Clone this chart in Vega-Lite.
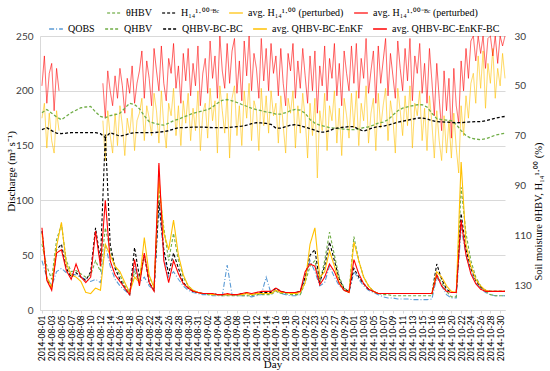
{
  "$schema": "https://vega.github.io/schema/vega-lite/v6.json",
  "width": 465,
  "height": 274,
  "autosize": {"type": "none"},
  "padding": {"left": 40, "top": 36, "right": 45, "bottom": 61},
  "background": "white",
  "config": {
    "view": {"stroke": null},
    "axis": {"labelFont": "Lato", "titleFont": "Liberation Serif", "titleFontWeight": "normal", "titleColor": "#000", "labelColor": "#404040", "gridColor": "#d9d9d9", "domainColor": "#d9d9d9", "tickColor": "#d9d9d9"},
    "legend": {"labelFont": "Liberation Serif", "labelFontSize": 10, "labelColor": "#000", "symbolType": "stroke", "symbolSize": 190, "symbolStrokeWidth": 1.4, "direction": "horizontal", "orient": "none", "columnPadding": 7, "labelOffset": 4}
  },
  "datasets": {
    "q": [
      {"t":0,"qo":45,"qh":60,"qb":72,"qe":70,"qr":75,"th":60.8,"hb":67.6},
      {"t":0.5,"qo":30,"qh":40,"qb":28,"qe":30,"qr":27,"th":59.5,"hb":66.8},
      {"t":1,"qo":22,"qh":28,"qb":20,"qe":20,"qr":18,"th":61,"hb":68},
      {"t":1.5,"qo":35,"qh":64,"qb":55,"qe":58,"qr":52,"th":62.5,"hb":69},
      {"t":2,"qo":38,"qh":78,"qb":60,"qe":80,"qr":55,"th":63.6,"hb":69.2},
      {"t":2.5,"qo":34,"qh":45,"qb":38,"qe":42,"qr":36,"th":62.2,"hb":69},
      {"t":3,"qo":33,"qh":35,"qb":30,"qe":32,"qr":28,"th":60.8,"hb":68.8},
      {"t":3.5,"qo":32,"qh":36,"qb":34,"qe":30,"qr":42,"th":59.8,"hb":68.8},
      {"t":4,"qo":30,"qh":33,"qb":30,"qe":26,"qr":30,"th":58.8,"hb":68.8},
      {"t":4.5,"qo":28,"qh":30,"qb":27,"qe":16,"qr":25,"th":58.5,"hb":68.8},
      {"t":5,"qo":26,"qh":32,"qb":35,"qe":15,"qr":30,"th":58.3,"hb":68.8},
      {"t":5.5,"qo":28,"qh":45,"qb":75,"qe":20,"qr":72,"th":60.5,"hb":68.8},
      {"t":6,"qo":25,"qh":35,"qb":45,"qe":18,"qr":40,"th":62.3,"hb":69.2},
      {"t":6.5,"qo":60,"qh":75,"qb":160,"qe":60,"qr":100,"th":62.8,"hb":70.8},
      {"t":7,"qo":40,"qh":55,"qb":60,"qe":50,"qr":45,"th":62,"hb":68.8},
      {"t":7.5,"qo":28,"qh":40,"qb":38,"qe":40,"qr":32,"th":61.6,"hb":69.5},
      {"t":8,"qo":22,"qh":32,"qb":28,"qe":35,"qr":26,"th":61,"hb":70.2},
      {"t":8.5,"qo":18,"qh":22,"qb":20,"qe":25,"qr":20,"th":59,"hb":69.8},
      {"t":9,"qo":14,"qh":16,"qb":14,"qe":16,"qr":14,"th":57,"hb":69.2},
      {"t":9.5,"qo":40,"qh":35,"qb":57,"qe":30,"qr":46,"th":57.5,"hb":68.8},
      {"t":10,"qo":25,"qh":25,"qb":30,"qe":25,"qr":22,"th":59.2,"hb":68.8},
      {"t":10.5,"qo":30,"qh":50,"qb":50,"qe":66,"qr":52,"th":62,"hb":68.8},
      {"t":11,"qo":22,"qh":30,"qb":25,"qe":32,"qr":25,"th":64.4,"hb":68.8},
      {"t":11.5,"qo":18,"qh":22,"qb":18,"qe":20,"qr":17,"th":65,"hb":68.8},
      {"t":12,"qo":95,"qh":110,"qb":100,"qe":120,"qr":134,"th":65.5,"hb":68.6},
      {"t":12.5,"qo":50,"qh":75,"qb":55,"qe":70,"qr":45,"th":65.8,"hb":68.4},
      {"t":13,"qo":30,"qh":45,"qb":33,"qe":55,"qr":25,"th":65,"hb":68},
      {"t":13.5,"qo":35,"qh":70,"qb":52,"qe":82,"qr":45,"th":64,"hb":67.4},
      {"t":14,"qo":28,"qh":45,"qb":38,"qe":50,"qr":33,"th":63.4,"hb":66.8},
      {"t":14.5,"qo":22,"qh":30,"qb":25,"qe":32,"qr":24,"th":62.6,"hb":66.8},
      {"t":15,"qo":18,"qh":22,"qb":20,"qe":22,"qr":20,"th":61.8,"hb":66.7},
      {"t":15.5,"qo":16,"qh":18,"qb":17,"qe":18,"qr":17,"th":61,"hb":66.6},
      {"t":16,"qo":15,"qh":16,"qb":16,"qe":16,"qr":16,"th":60.5,"hb":66.6},
      {"t":16.5,"qo":14,"qh":15,"qb":15,"qe":15,"qr":15,"th":60,"hb":66.6},
      {"t":17,"qo":14,"qh":14,"qb":15,"qe":15,"qr":15,"th":59.6,"hb":66.7},
      {"t":17.5,"qo":13,"qh":14,"qb":15,"qe":14,"qr":15,"th":58.5,"hb":66.8},
      {"t":18,"qo":13,"qh":14,"qb":14,"qe":14,"qr":14,"th":57,"hb":66.8},
      {"t":18.5,"qo":13,"qh":13,"qb":14,"qe":14,"qr":14,"th":55.8,"hb":66.8},
      {"t":19,"qo":41,"qh":13,"qb":14,"qe":14,"qr":15,"th":55.5,"hb":66.8},
      {"t":19.5,"qo":14,"qh":13,"qb":14,"qe":14,"qr":14,"th":56,"hb":66.6},
      {"t":20,"qo":13,"qh":13,"qb":14,"qe":14,"qr":14,"th":56.7,"hb":66.4},
      {"t":20.5,"qo":13,"qh":13,"qb":15,"qe":14,"qr":15,"th":57.5,"hb":66.2},
      {"t":21,"qo":13,"qh":13,"qb":15,"qe":15,"qr":16,"th":58.2,"hb":65.8},
      {"t":21.5,"qo":12,"qh":13,"qb":14,"qe":14,"qr":15,"th":59,"hb":65.2},
      {"t":22,"qo":13,"qh":14,"qb":15,"qe":15,"qr":16,"th":59.6,"hb":64.8},
      {"t":22.5,"qo":14,"qh":14,"qb":16,"qe":15,"qr":17,"th":60,"hb":64.9},
      {"t":23,"qo":30,"qh":14,"qb":16,"qe":15,"qr":17,"th":60.5,"hb":65.1},
      {"t":23.5,"qo":15,"qh":14,"qb":16,"qe":15,"qr":17,"th":60.8,"hb":65.5},
      {"t":24,"qo":18,"qh":17,"qb":20,"qe":18,"qr":20,"th":61.4,"hb":67},
      {"t":24.5,"qo":15,"qh":15,"qb":17,"qe":16,"qr":17,"th":61.4,"hb":67},
      {"t":25,"qo":14,"qh":15,"qb":16,"qe":16,"qr":16,"th":60.8,"hb":66.4},
      {"t":25.5,"qo":13,"qh":14,"qb":16,"qe":15,"qr":16,"th":60,"hb":65.8},
      {"t":26,"qo":13,"qh":14,"qb":16,"qe":15,"qr":16,"th":59.5,"hb":65.6},
      {"t":26.5,"qo":14,"qh":14,"qb":17,"qe":16,"qr":17,"th":59.8,"hb":66},
      {"t":27,"qo":30,"qh":25,"qb":30,"qe":25,"qr":35,"th":61,"hb":66.6},
      {"t":27.5,"qo":45,"qh":40,"qb":50,"qe":60,"qr":42,"th":63.5,"hb":67.2},
      {"t":28,"qo":35,"qh":45,"qb":55,"qe":75,"qr":40,"th":65,"hb":67.8},
      {"t":28.5,"qo":22,"qh":25,"qb":25,"qe":30,"qr":23,"th":65.8,"hb":68.6},
      {"t":29,"qo":25,"qh":45,"qb":40,"qe":35,"qr":30,"th":66.3,"hb":68.6},
      {"t":29.5,"qo":40,"qh":71,"qb":62,"qe":54,"qr":42,"th":66.8,"hb":68},
      {"t":30,"qo":30,"qh":50,"qb":45,"qe":40,"qr":35,"th":67,"hb":67.2},
      {"t":30.5,"qo":22,"qh":30,"qb":28,"qe":25,"qr":24,"th":67.2,"hb":66.8},
      {"t":31,"qo":18,"qh":20,"qb":19,"qe":18,"qr":18,"th":67.4,"hb":66.6},
      {"t":31.5,"qo":16,"qh":17,"qb":17,"qe":16,"qr":16,"th":67.6,"hb":66.4},
      {"t":32,"qo":35,"qh":67,"qb":38,"qe":62,"qr":46,"th":67.6,"hb":66.4},
      {"t":32.5,"qo":28,"qh":45,"qb":30,"qe":45,"qr":33,"th":67.3,"hb":67.5},
      {"t":33,"qo":22,"qh":30,"qb":24,"qe":30,"qr":24,"th":66.8,"hb":68.2},
      {"t":33.5,"qo":18,"qh":22,"qb":19,"qe":22,"qr":19,"th":66.5,"hb":67.5},
      {"t":34,"qo":16,"qh":17,"qb":17,"qe":17,"qr":17,"th":65.8,"hb":66.8},
      {"t":34.5,"qo":14,"qh":15,"qb":15,"qe":15,"qr":15,"th":65,"hb":66.4},
      {"t":35,"qo":12,"qh":14,"qb":15,"qe":15,"qr":15,"th":64.6,"hb":66.2},
      {"t":35.5,"qo":11,"qh":14,"qb":15,"qe":15,"qr":15,"th":63.6,"hb":65.8},
      {"t":36,"qo":11,"qh":13,"qb":15,"qe":15,"qr":15,"th":61.8,"hb":65.2},
      {"t":36.5,"qo":10,"qh":13,"qb":15,"qe":15,"qr":15,"th":60,"hb":64.6},
      {"t":37,"qo":10,"qh":13,"qb":15,"qe":15,"qr":15,"th":59,"hb":64.2},
      {"t":37.5,"qo":10,"qh":13,"qb":15,"qe":15,"qr":15,"th":58.5,"hb":63.8},
      {"t":38,"qo":9.5,"qh":13,"qb":15,"qe":15,"qr":15,"th":58,"hb":63.4},
      {"t":38.5,"qo":9.5,"qh":13,"qb":15,"qe":15,"qr":15,"th":57.6,"hb":63},
      {"t":39,"qo":9.5,"qh":13,"qb":15,"qe":15,"qr":15,"th":57.6,"hb":62.9},
      {"t":39.5,"qo":9.5,"qh":13,"qb":15,"qe":15,"qr":15,"th":58.5,"hb":63.3},
      {"t":40,"qo":10,"qh":13,"qb":15,"qe":15,"qr":15,"th":61,"hb":63.9},
      {"t":40.5,"qo":30,"qh":32,"qb":42,"qe":35,"qr":32,"th":63.2,"hb":64.4},
      {"t":41,"qo":22,"qh":25,"qb":28,"qe":30,"qr":22,"th":63.6,"hb":64.5},
      {"t":41.5,"qo":14,"qh":17,"qb":19,"qe":22,"qr":17,"th":63.8,"hb":64.6},
      {"t":42,"qo":11,"qh":12,"qb":16,"qe":17,"qr":16,"th":64,"hb":64.7},
      {"t":42.5,"qo":11,"qh":12,"qb":16,"qe":16,"qr":16,"th":65.5,"hb":64.8},
      {"t":43,"qo":75,"qh":112,"qb":88,"qe":135,"qr":82,"th":68,"hb":64.8},
      {"t":43.5,"qo":50,"qh":70,"qb":55,"qe":60,"qr":50,"th":70,"hb":64.6},
      {"t":44,"qo":35,"qh":45,"qb":38,"qe":40,"qr":33,"th":71,"hb":64.5},
      {"t":44.5,"qo":25,"qh":30,"qb":27,"qe":28,"qr":24,"th":71.4,"hb":64.4},
      {"t":45,"qo":20,"qh":22,"qb":21,"qe":22,"qr":19,"th":71.6,"hb":64.4},
      {"t":45.5,"qo":16,"qh":17,"qb":18,"qe":18,"qr":17,"th":71.3,"hb":64},
      {"t":46,"qo":14,"qh":14,"qb":17,"qe":17,"qr":17,"th":70.6,"hb":63.5},
      {"t":46.5,"qo":13,"qh":13,"qb":17,"qe":17,"qr":17,"th":69.8,"hb":63},
      {"t":47,"qo":13,"qh":13,"qb":17,"qe":17,"qr":17,"th":69.4,"hb":62.6},
      {"t":47.5,"qo":13,"qh":13,"qb":17,"qe":17,"qr":17,"th":69,"hb":62.3}
    ],
    "h": [
      {"t":0,"hr":50,"ha":63},{"t":0.25,"hr":38,"ha":57},{"t":0.5,"hr":57,"ha":75},{"t":0.75,"hr":45,"ha":61},
      {"t":1,"hr":41,"ha":72},{"t":1.25,"hr":60,"ha":77},{"t":1.5,"hr":43,"ha":60},{"t":1.75,"hr":52,"ha":68},
      {"t":4,"hr":null,"ha":null},
      {"t":6.25,"hr":49,"ha":64},{"t":6.5,"hr":63,"ha":80},{"t":6.75,"hr":44,"ha":60},{"t":7,"hr":52,"ha":70},
      {"t":7.25,"hr":58,"ha":77},{"t":7.5,"hr":46,"ha":61},{"t":7.75,"hr":55,"ha":74},{"t":8,"hr":43,"ha":58},
      {"t":8.25,"hr":50,"ha":66},{"t":8.5,"hr":61,"ha":78},{"t":8.75,"hr":47,"ha":63},{"t":9,"hr":53,"ha":69},
      {"t":9.25,"hr":42,"ha":59},{"t":9.5,"hr":57,"ha":76},{"t":9.75,"hr":49,"ha":64},{"t":10,"hr":44,"ha":61},
      {"t":10.25,"hr":36,"ha":55},{"t":10.5,"hr":55,"ha":72},{"t":10.75,"hr":40,"ha":58},{"t":11,"hr":47,"ha":63},
      {"t":11.25,"hr":58,"ha":70},{"t":11.5,"hr":35,"ha":53},{"t":11.75,"hr":44,"ha":60},{"t":12,"hr":52,"ha":73},
      {"t":12.25,"hr":34,"ha":52},{"t":12.5,"hr":49,"ha":66},{"t":12.75,"hr":56,"ha":75},{"t":13,"hr":39,"ha":57},
      {"t":13.25,"hr":45,"ha":62},{"t":13.5,"hr":33,"ha":51},{"t":13.75,"hr":51,"ha":70},{"t":14,"hr":42,"ha":58},
      {"t":14.25,"hr":57,"ha":74},{"t":14.5,"hr":37,"ha":56},{"t":14.75,"hr":48,"ha":65},{"t":15,"hr":35,"ha":53},
      {"t":15.25,"hr":54,"ha":72},{"t":15.5,"hr":41,"ha":59},{"t":15.75,"hr":50,"ha":68},{"t":16,"hr":34,"ha":52},
      {"t":16.25,"hr":58,"ha":76},{"t":16.5,"hr":45,"ha":61},{"t":16.75,"hr":39,"ha":57},{"t":17,"hr":53,"ha":71},
      {"t":17.25,"hr":32,"ha":51},{"t":17.5,"hr":47,"ha":64},{"t":17.75,"hr":38,"ha":56},{"t":18,"hr":55,"ha":77},
      {"t":18.25,"hr":30,"ha":50},{"t":18.5,"hr":44,"ha":60},{"t":18.75,"hr":51,"ha":69},{"t":19,"hr":33,"ha":53},
      {"t":19.25,"hr":49,"ha":79},{"t":19.5,"hr":36,"ha":55},{"t":19.75,"hr":31,"ha":50},{"t":20,"hr":53,"ha":70},
      {"t":20.25,"hr":40,"ha":58},{"t":20.5,"hr":56,"ha":74},{"t":20.75,"hr":32,"ha":52},{"t":21,"hr":46,"ha":63},
      {"t":21.25,"hr":30,"ha":49},{"t":21.5,"hr":52,"ha":72},{"t":21.75,"hr":37,"ha":56},{"t":22,"hr":43,"ha":60},
      {"t":22.25,"hr":55,"ha":76},{"t":22.5,"hr":31,"ha":51},{"t":22.75,"hr":48,"ha":66},{"t":23,"hr":35,"ha":54},
      {"t":23.25,"hr":52,"ha":69},{"t":23.5,"hr":33,"ha":52},{"t":23.75,"hr":45,"ha":62},{"t":24,"hr":38,"ha":57},
      {"t":24.25,"hr":54,"ha":73},{"t":24.5,"hr":35,"ha":54},{"t":24.75,"hr":49,"ha":66},{"t":25,"hr":58,"ha":77},
      {"t":25.25,"hr":37,"ha":55},{"t":25.5,"hr":44,"ha":61},{"t":25.75,"hr":33,"ha":52},{"t":26,"hr":55,"ha":75},
      {"t":26.25,"hr":40,"ha":58},{"t":26.5,"hr":51,"ha":69},{"t":26.75,"hr":35,"ha":53},{"t":27,"hr":46,"ha":63},
      {"t":27.25,"hr":57,"ha":79},{"t":27.5,"hr":38,"ha":57},{"t":27.75,"hr":52,"ha":70},{"t":28,"hr":36,"ha":55},
      {"t":28.25,"hr":61,"ha":87},{"t":28.5,"hr":42,"ha":60},{"t":28.75,"hr":50,"ha":68},{"t":29,"hr":34,"ha":53},
      {"t":29.25,"hr":56,"ha":76},{"t":29.5,"hr":39,"ha":58},{"t":29.75,"hr":47,"ha":64},{"t":30,"hr":33,"ha":52},
      {"t":30.25,"hr":54,"ha":73},{"t":30.5,"hr":41,"ha":59},{"t":30.75,"hr":58,"ha":78},{"t":31,"hr":36,"ha":55},
      {"t":31.25,"hr":45,"ha":62},{"t":31.5,"hr":52,"ha":71},{"t":31.75,"hr":34,"ha":53},{"t":32,"hr":49,"ha":67},
      {"t":32.25,"hr":33,"ha":52},{"t":32.5,"hr":55,"ha":74},{"t":32.75,"hr":39,"ha":57},{"t":33,"hr":47,"ha":64},
      {"t":33.25,"hr":31,"ha":50},{"t":33.5,"hr":53,"ha":73},{"t":33.75,"hr":44,"ha":61},{"t":34,"hr":36,"ha":55},
      {"t":34.25,"hr":57,"ha":76},{"t":34.5,"hr":34,"ha":53},{"t":34.75,"hr":49,"ha":67},{"t":35,"hr":40,"ha":58},
      {"t":35.25,"hr":31,"ha":51},{"t":35.5,"hr":54,"ha":72},{"t":35.75,"hr":37,"ha":56},{"t":36,"hr":46,"ha":63},
      {"t":36.25,"hr":55,"ha":77},{"t":36.5,"hr":32,"ha":51},{"t":36.75,"hr":43,"ha":60},{"t":37,"hr":52,"ha":70},
      {"t":37.25,"hr":35,"ha":54},{"t":37.5,"hr":48,"ha":66},{"t":37.75,"hr":31,"ha":50},{"t":38,"hr":56,"ha":75},
      {"t":38.25,"hr":38,"ha":57},{"t":38.5,"hr":45,"ha":62},{"t":38.75,"hr":33,"ha":52},{"t":39,"hr":53,"ha":72},
      {"t":39.25,"hr":41,"ha":59},{"t":39.5,"hr":57,"ha":76},{"t":39.75,"hr":35,"ha":54},{"t":40,"hr":48,"ha":65},
      {"t":40.25,"hr":62,"ha":79},{"t":40.5,"hr":41,"ha":60},{"t":40.75,"hr":55,"ha":72},{"t":41,"hr":68,"ha":80},
      {"t":41.25,"hr":44,"ha":62},{"t":41.5,"hr":60,"ha":77},{"t":41.75,"hr":47,"ha":64},{"t":42,"hr":71,"ha":79},
      {"t":42.25,"hr":43,"ha":61},{"t":42.5,"hr":58,"ha":75},{"t":42.75,"hr":65,"ha":85},{"t":43,"hr":40,"ha":58},
      {"t":43.25,"hr":52,"ha":70},{"t":43.5,"hr":35,"ha":54},{"t":43.75,"hr":47,"ha":63},{"t":44,"hr":32,"ha":49},
      {"t":44.25,"hr":30,"ha":45},{"t":44.5,"hr":40,"ha":57},{"t":44.75,"hr":30,"ha":38},{"t":45,"hr":37,"ha":51},
      {"t":45.25,"hr":30,"ha":36},{"t":45.5,"hr":43,"ha":59},{"t":45.75,"hr":31,"ha":41},{"t":46,"hr":30,"ha":49},
      {"t":46.25,"hr":38,"ha":35},{"t":46.5,"hr":30,"ha":55},{"t":46.75,"hr":41,"ha":43},{"t":47,"hr":30,"ha":50},
      {"t":47.25,"hr":34,"ha":37},{"t":47.5,"hr":30,"ha":47}
    ]
  },
  "encoding": {
    "x": {
      "field": "t", "type": "quantitative",
      "scale": {"domain": [-0.2, 47.5], "nice": false, "zero": false},
      "axis": {
        "title": "Day", "titleFontSize": 11, "titleY": 48, "titleBaseline": "top",
        "values": [0,1,2,3,4,5,6,7,8,9,10,11,12,13,14,15,16,17,18,19,20,21,22,23,24,25,26,27,28,29,30,31,32,33,34,35,36,37,38,39,40,41,42,43,44,45,46,47],
        "labelExpr": "['2014-08-01','2014-08-03','2014-08-05','2014-08-07','2014-08-08','2014-08-10','2014-08-12','2014-08-14','2014-08-16','2014-08-18','2014-08-20','2014-08-22','2014-08-24','2014-08-26','2014-08-28','2014-08-30','2014-08-31','2014-09-02','2014-09-04','2014-09-06','2014-09-08','2014-09-10','2014-09-12','2014-09-14','2014-09-16','2014-09-18','2014-09-20','2014-09-22','2014-09-23','2014-09-25','2014-09-27','2014-09-29','2014-10-01','2014-10-03','2014-10-05','2014-10-07','2014-10-09','2014-10-11','2014-10-13','2014-10-15','2014-10-16','2014-10-18','2014-10-20','2014-10-22','2014-10-24','2014-10-26','2014-10-28','2014-10-30'][datum.value]",
        "labelAngle": 270, "labelFontSize": 8.5, "labelColor": "#000", "labelOverlap": false, "labelPadding": 2,
        "grid": false, "tickSize": 3, "labelFlush": false
      }
    }
  },
  "layer": [
    {
      "encoding": {
        "y": {
          "field": "v", "type": "quantitative",
          "scale": {"domain": [30, 140], "reverse": true, "nice": false, "zero": false},
          "axis": {"orient": "right", "title": "Soil moisture θHBV, H₁₄¹·⁰⁰ (%)", "titleFontSize": 10.5, "titleAngle": 270, "titleX": 33, "titleY": 175, "titleAlign": "center", "titleBaseline": "middle", "values": [30, 50, 70, 90, 110, 130], "grid": false, "domain": false, "ticks": false, "labelFontSize": 10, "labelPadding": 9}
        },
        "color": {
          "field": "s", "type": "nominal",
          "scale": {"domain": ["th", "hb", "ha", "hr"], "range": ["#70ad47", "#000000", "#ffc000", "#ff0000"]},
          "legend": {"title": null, "legendX": 66, "legendY": -31, "labelFont": "Liberation Serif", "labelFontSize": 10, "labelExpr": "{'th':'θHBV','hb':'H₁₄¹·⁰⁰⁻ᴮᶜ','ha':'avg. H₁₄¹·⁰⁰ (perturbed)','hr':'avg. H₁₄¹·⁰⁰⁻ᴮᶜ (perturbed)'}[datum.label]"}
        },
        "strokeDash": {
          "field": "s", "type": "nominal",
          "scale": {"domain": ["th", "hb", "ha", "hr"], "range": [[3, 2], [3, 2], [1, 0], [1, 0]]},
          "legend": {"title": null, "legendX": 66, "legendY": -31, "labelFont": "Liberation Serif", "labelFontSize": 10, "labelExpr": "{'th':'θHBV','hb':'H₁₄¹·⁰⁰⁻ᴮᶜ','ha':'avg. H₁₄¹·⁰⁰ (perturbed)','hr':'avg. H₁₄¹·⁰⁰⁻ᴮᶜ (perturbed)'}[datum.label]"}
        }
      },
      "layer": [
        {
          "data": {"name": "h"},
          "transform": [{"fold": ["ha", "hr"], "as": ["s", "v"]}],
          "mark": {"type": "line", "strokeWidth": 0.8, "opacity": 0.8, "invalid": "break-paths-filter-domains"}
        },
        {
          "data": {"name": "q"},
          "transform": [{"fold": ["th", "hb"], "as": ["s", "v"]}],
          "mark": {"type": "line", "strokeWidth": 1.3}
        }
      ]
    },
    {
      "data": {"name": "q"},
      "transform": [{"fold": ["qo", "qh", "qb", "qe", "qr"], "as": ["s", "v"]}],
      "mark": {"type": "line", "strokeWidth": 1.1},
      "encoding": {
        "y": {
          "field": "v", "type": "quantitative",
          "scale": {"domain": [0, 250], "nice": false},
          "axis": {"orient": "left", "title": "Discharge (m³ s⁻¹)", "titleFontSize": 11, "titleX": -29, "titleY": 135, "titleAngle": 270, "titleAlign": "center", "titleBaseline": "middle", "values": [0, 50, 100, 150, 200, 250], "grid": true, "domain": true, "ticks": false, "labelFontSize": 10, "labelPadding": 7}
        },
        "color": {
          "field": "s", "type": "nominal",
          "scale": {"domain": ["qo", "qh", "qb", "qe", "qr"], "range": ["#5b9bd5", "#70ad47", "#000000", "#ffc000", "#ff0000"]},
          "legend": {"title": null, "legendX": 8, "legendY": -15, "labelFont": "Liberation Serif", "labelFontSize": 10, "labelExpr": "{'qo':'QOBS','qh':'QHBV','qb':'QHBV-BC-BC','qe':'avg. QHBV-BC-EnKF','qr':'avg. QHBV-BC-EnKF-BC'}[datum.label]"}
        },
        "strokeDash": {
          "field": "s", "type": "nominal",
          "scale": {"domain": ["qo", "qh", "qb", "qe", "qr"], "range": [[5, 2, 1, 2], [3, 2], [3, 2], [1, 0], [1, 0]]},
          "legend": {"title": null, "legendX": 8, "legendY": -15, "labelFont": "Liberation Serif", "labelFontSize": 10, "labelExpr": "{'qo':'QOBS','qh':'QHBV','qb':'QHBV-BC-BC','qe':'avg. QHBV-BC-EnKF','qr':'avg. QHBV-BC-EnKF-BC'}[datum.label]"}
        }
      }
    }
  ],
  "resolve": {"scale": {"y": "independent", "color": "independent", "strokeDash": "independent"}}
}
